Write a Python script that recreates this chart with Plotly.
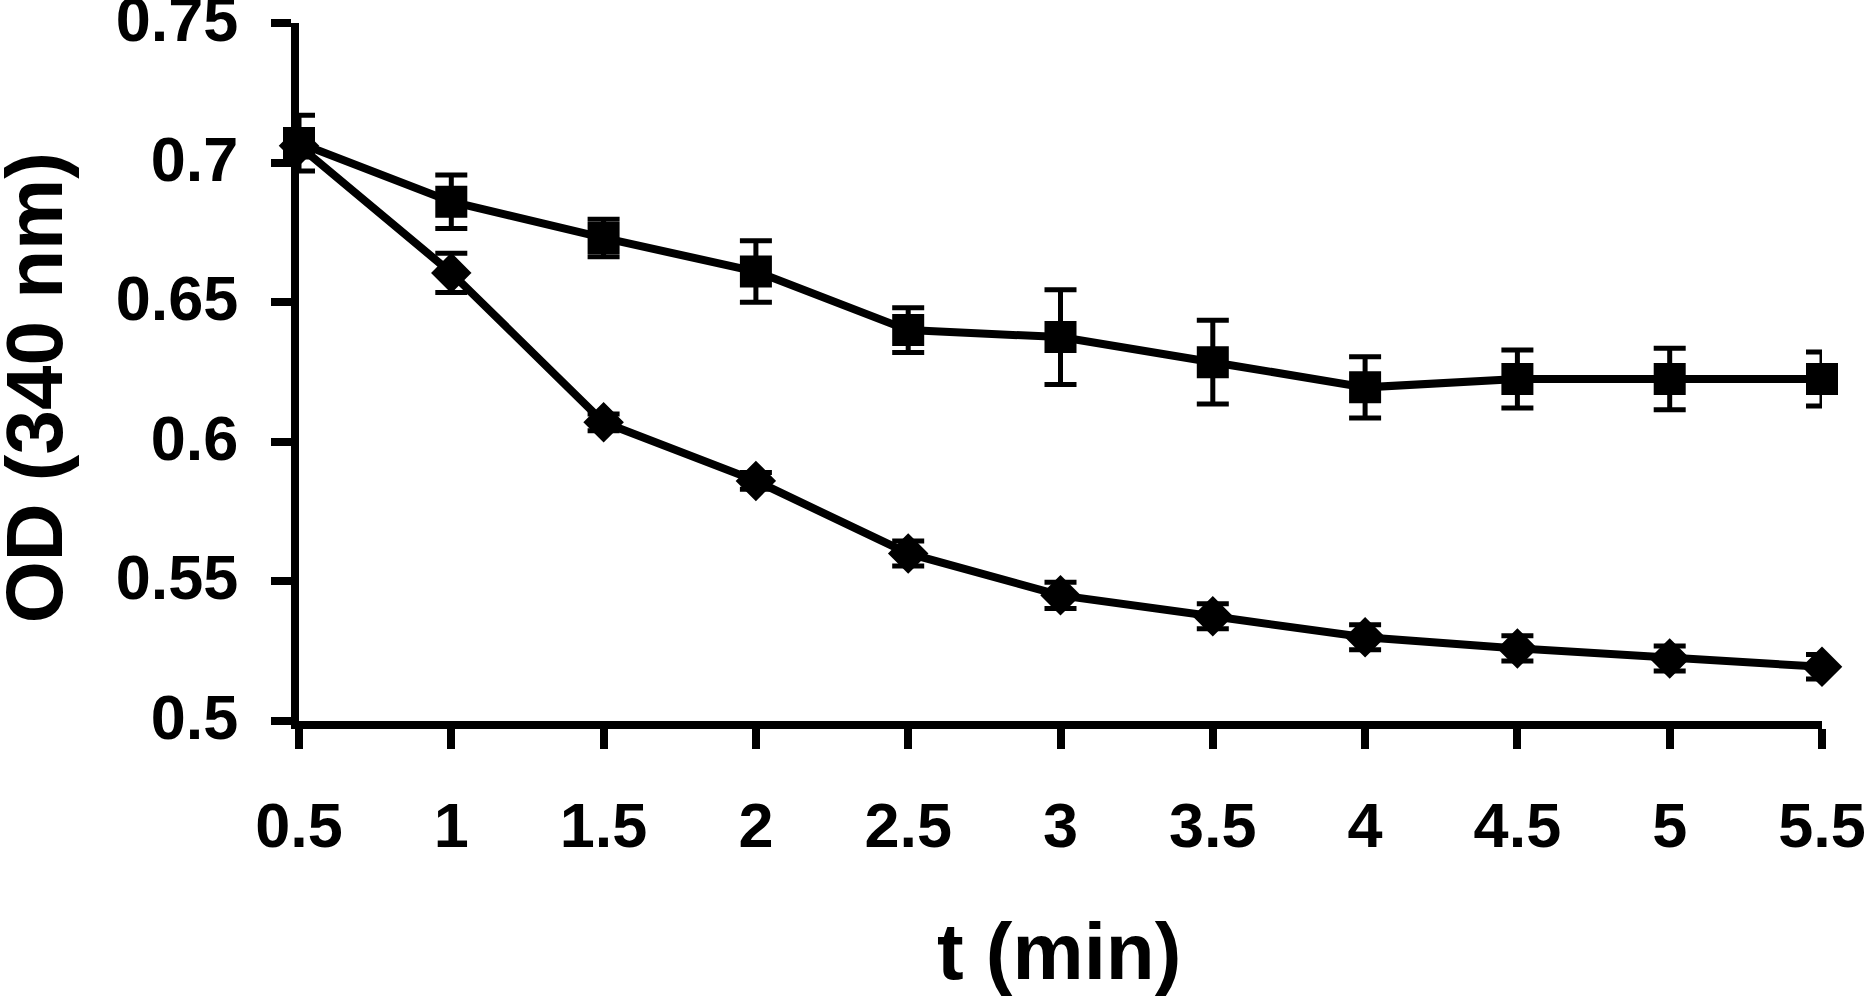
import plotly.graph_objects as go

# ---- data ----
t_min = [0.5, 1, 1.5, 2, 2.5, 3, 3.5, 4, 4.5, 5, 5.5]

od_square = [0.707, 0.686, 0.673, 0.661, 0.640, 0.6375, 0.6285, 0.6195, 0.6225, 0.6225, 0.6225]
err_square = [0.010, 0.0096, 0.0067, 0.011, 0.008, 0.017, 0.015, 0.011, 0.0104, 0.011, 0.0097]

od_diamond = [0.706, 0.6605, 0.607, 0.586, 0.560, 0.545, 0.5375, 0.530, 0.526, 0.5224, 0.5194]
err_diamond = [0.004, 0.007, 0.003, 0.003, 0.0045, 0.0047, 0.0045, 0.0045, 0.0045, 0.0045, 0.0044]

x_ticks = [0.5, 1, 1.5, 2, 2.5, 3, 3.5, 4, 4.5, 5, 5.5]
x_ticktext = ["0.5", "1", "1.5", "2", "2.5", "3", "3.5", "4", "4.5", "5", "5.5"]
y_ticks = [0.5, 0.55, 0.6, 0.65, 0.7, 0.75]
y_ticktext = ["0.5", "0.55", "0.6", "0.65", "0.7", "0.75"]

x_title = "t (min)"
y_title = "OD (340 nm)"

FONT = "Arial, 'Liberation Sans', sans-serif"

fig = go.Figure()

fig.add_trace(go.Scatter(
    x=t_min, y=od_diamond, mode="lines+markers",
    line=dict(color="black", width=8),
    marker=dict(symbol="diamond", size=29, color="black", line=dict(color="black", width=2)),
    error_y=dict(type="data", array=err_diamond, visible=True, color="black", thickness=5, width=16),
    cliponaxis=False, showlegend=False,
))
fig.add_trace(go.Scatter(
    x=t_min, y=od_square, mode="lines+markers",
    line=dict(color="black", width=8),
    marker=dict(symbol="square", size=30, color="black", line=dict(color="black", width=2)),
    error_y=dict(type="data", array=err_square, visible=True, color="black", thickness=5, width=16),
    cliponaxis=False, showlegend=False,
))

axis_common = dict(
    showline=True, linecolor="black", linewidth=8,
    ticks="outside", ticklen=20, tickwidth=8, tickcolor="black",
    showgrid=False, zeroline=False, automargin=False,
    ticklabeloverflow="allow",
    tickfont=dict(family=FONT, size=63, color="black", weight="bold"),
)

fig.update_xaxes(range=[0.5, 5.5], tickvals=x_ticks, ticktext=x_ticktext,
                 ticklabelstandoff=22, **axis_common)
fig.update_yaxes(range=[0.5, 0.75], tickvals=y_ticks, ticktext=y_ticktext,
                 ticklabelstandoff=20, ticklabelshift=-4, **axis_common)

fig.add_annotation(text=x_title, xref="paper", yref="paper", x=0.499, y=-0.330,
                   xanchor="center", yanchor="middle", showarrow=False,
                   font=dict(family=FONT, size=80, color="black", weight="bold"))
fig.add_annotation(text=y_title, xref="paper", yref="paper", x=-0.174, y=0.478,
                   xanchor="center", yanchor="middle", showarrow=False, textangle=-90,
                   font=dict(family=FONT, size=80, color="black", weight="bold"))

fig.update_layout(
    width=1868, height=997,
    margin=dict(l=299, r=46, t=23, b=276, autoexpand=False),
    paper_bgcolor="white", plot_bgcolor="white",
)

# remove the default 8 px page margin so the figure fills the window exactly
fig.write_html(
    "out.html",
    config={"displayModeBar": False},
    post_script="document.body.style.margin='0';document.body.style.overflow='hidden';",
)
